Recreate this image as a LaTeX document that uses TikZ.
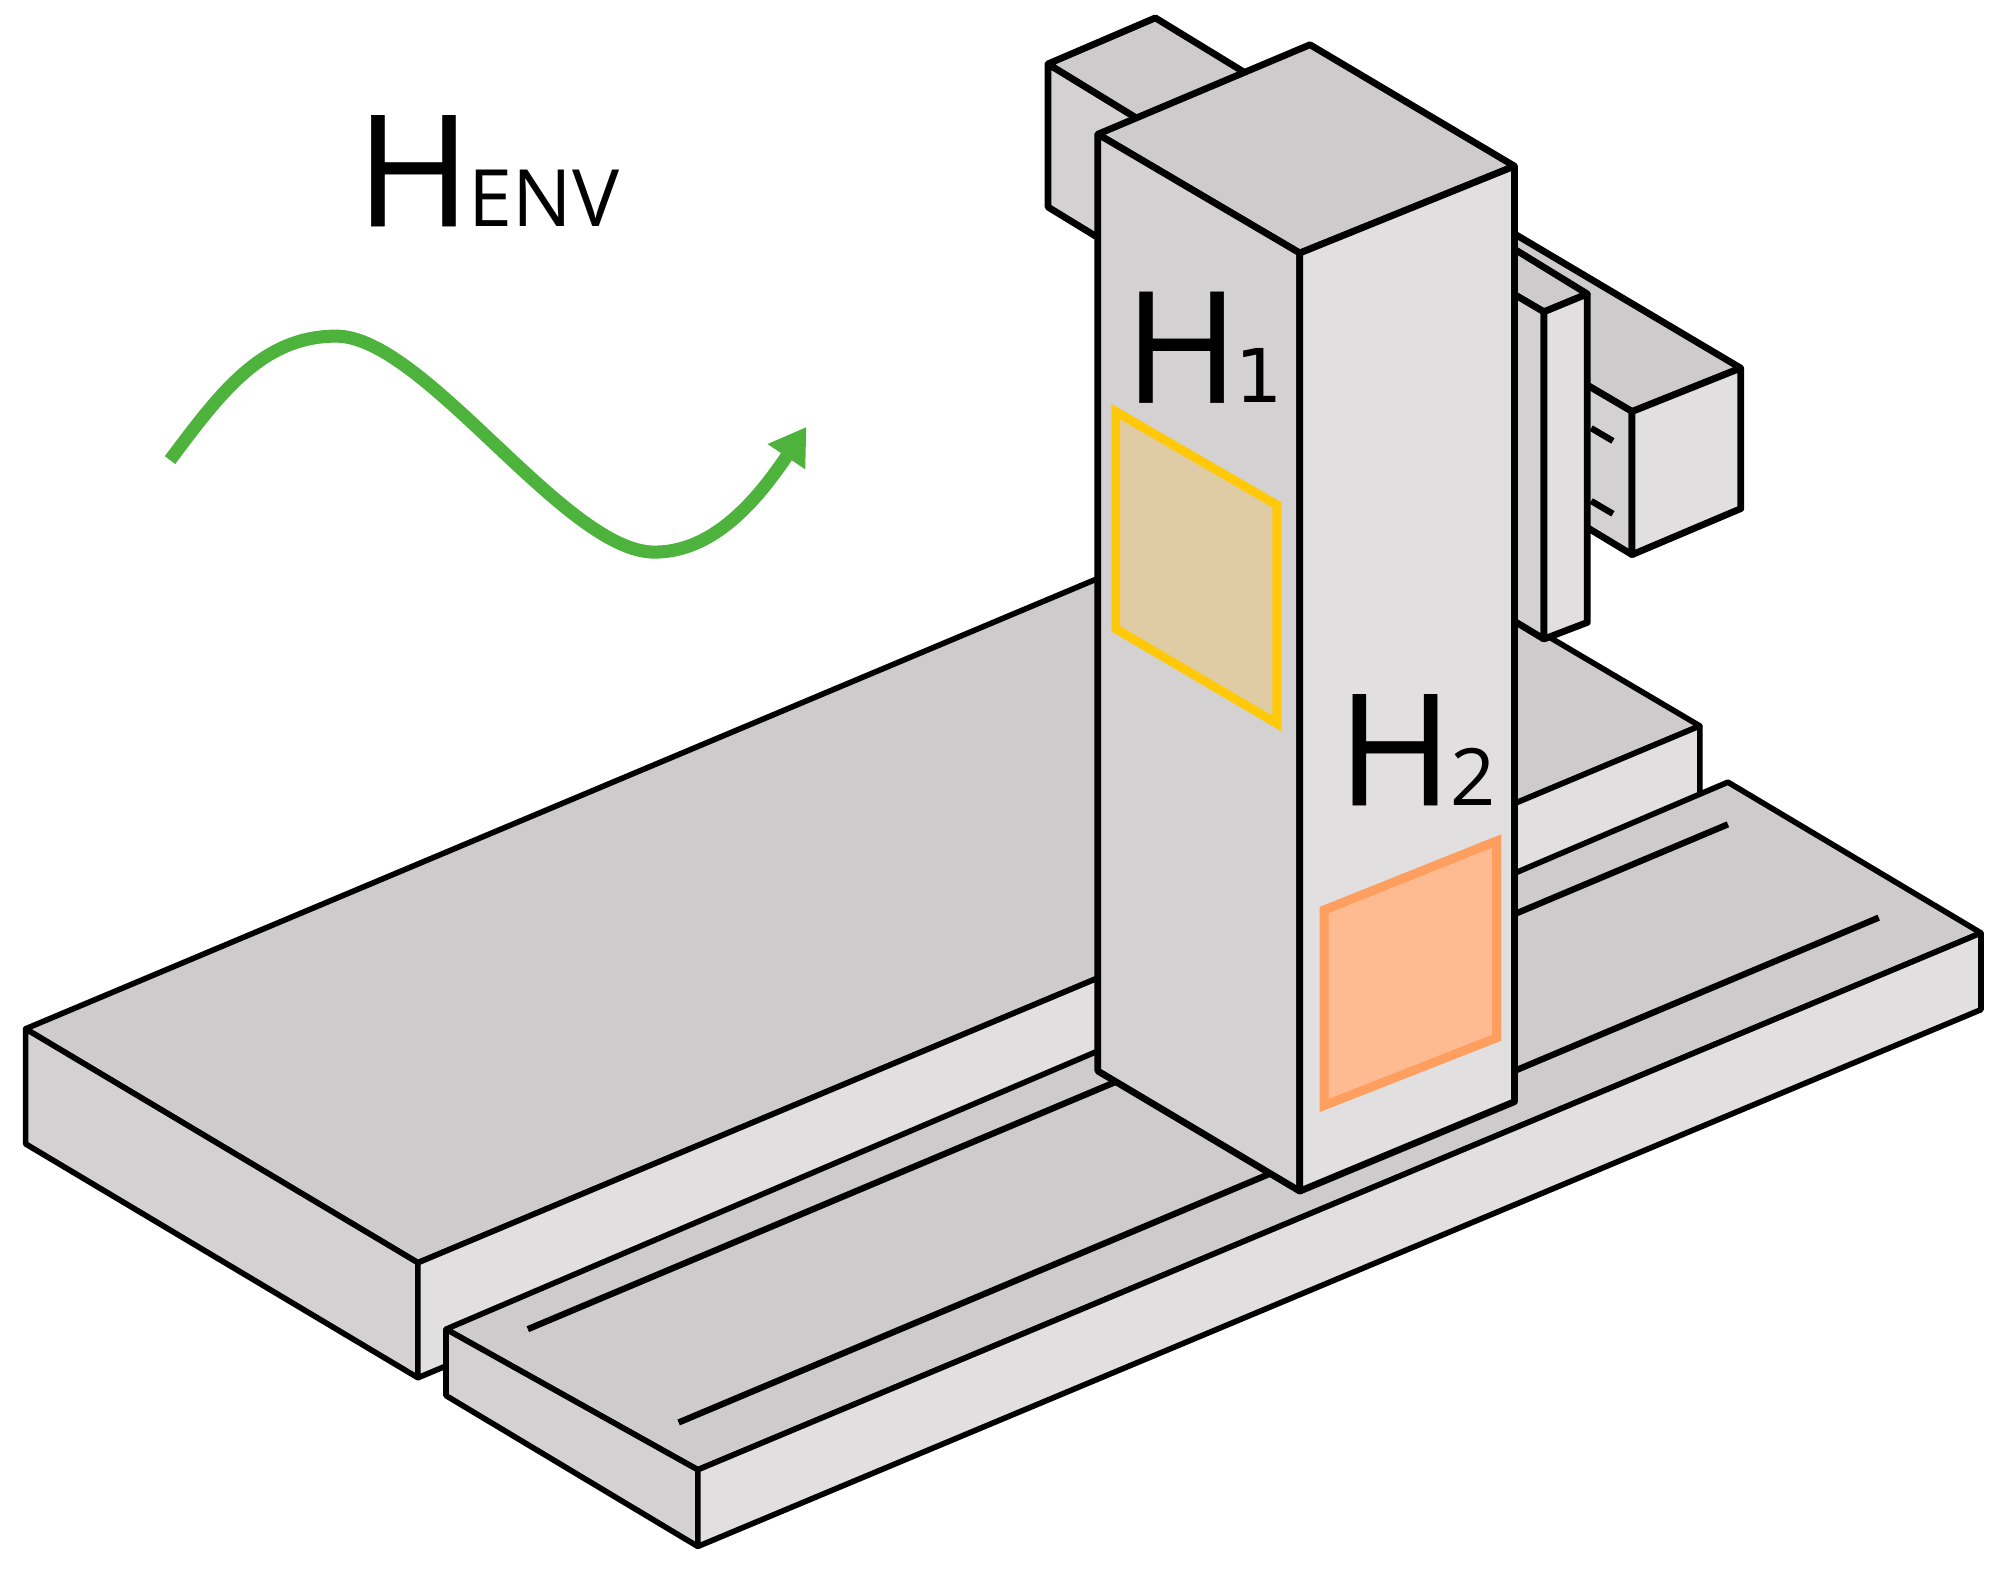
\documentclass[tikz,border=0pt]{standalone}
\usepackage{fontspec}
\setmainfont{Open Sans}
\newfontfamily\heavyfont[FakeBold=0.35]{Open Sans}
\newfontfamily\footfont{DejaVu Sans}
\usetikzlibrary{arrows.meta}

\tikzset{
    topface/.style={draw, fill={rgb,255:red,206;green,203;blue,204}, line width=1.25pt, line join=round},
    leftface/.style={draw, fill={rgb,255:red,211;green,209;blue,210}, line width=1.25pt, line join=round},
    rightface/.style={draw, fill={rgb,255:red,225;green,223;blue,224}, line width=1.25pt, line join=round},
    railline/.style={draw, line width=1.4pt},
    upperpart/.style={line width=1.5pt},
    bigletter/.style={anchor=base west, inner sep=0pt, font=\heavyfont\fontsize{34.5}{40}\selectfont},
    lowletter/.style={anchor=base west, inner sep=0pt, font=\fontsize{17.6}{22}\selectfont}
}

\begin{document}
\begin{tikzpicture}[x=0.01cm, y=-0.01cm]
    \useasboundingbox (0, 0) rectangle (1568, 1227);

    % large table
    \draw [topface] (20, 805) -- (1020, 385) -- (1330, 568) -- (327, 988) -- cycle;
    \draw [leftface] (20, 805) -- (327, 988) -- (327, 1078) -- (20, 895) -- cycle;
    \draw [rightface] (327, 988) -- (1330, 568) -- (1330, 658) -- (327, 1078) -- cycle;

    % rail bed
    \draw [topface] (349, 1040) -- (1352, 612) -- (1550, 730) -- (546, 1150) -- cycle;
    \draw [leftface] (349, 1040) -- (546, 1150) -- (546, 1210) -- (349, 1092) -- cycle;
    \draw [rightface] (546, 1150) -- (1550, 730) -- (1550, 790) -- (546, 1210) -- cycle;
    \draw [railline] (413, 1040) -- (1352, 645);
    \draw [railline] (531, 1113) -- (1470, 718);

    % box behind the column
    \draw [leftface, upperpart] (820, 50) -- (1026, 176) -- (1026, 288) -- (820, 162) -- cycle;
    \draw [topface, upperpart] (820, 50) -- (904, 14) -- (1110, 140) -- (1026, 176) -- cycle;

    % arm on the right
    \draw [topface, upperpart] (1100, 218) -- (1185, 183) -- (1362, 288) -- (1277, 322) -- cycle;
    \draw [leftface, upperpart] (1100, 218) -- (1277, 322) -- (1277, 434) -- (1100, 327) -- cycle;
    \draw [rightface, upperpart] (1277, 322) -- (1362, 288) -- (1362, 398) -- (1277, 434) -- cycle;
    \draw [railline] (1245, 335) -- (1262, 345);
    \draw [railline] (1245, 392) -- (1262, 402);

    % plate on the arm
    \draw [topface, upperpart] (1150, 210) -- (1185, 195) -- (1242, 230) -- (1208, 244) -- cycle;
    \draw [leftface, upperpart] (1150, 210) -- (1208, 244) -- (1208, 500) -- (1150, 465) -- cycle;
    \draw [rightface, upperpart] (1208, 244) -- (1242, 230) -- (1242, 487) -- (1208, 500) -- cycle;

    % column
    \draw [topface, upperpart] (859, 105) -- (1025, 35) -- (1185, 130) -- (1017, 198) -- cycle;
    \draw [leftface, upperpart] (859, 105) -- (1017, 198) -- (1017, 932) -- (859, 838) -- cycle;
    \draw [rightface, upperpart] (1017, 198) -- (1185, 130) -- (1185, 862) -- (1017, 932) -- cycle;

    % patches
    \draw [line width=2pt, draw={rgb,255:red,255;green,201;blue,10}, fill={rgb,255:red,223;green,204;blue,165}]
        (873, 322) -- (999, 395) -- (999, 566) -- (873, 492) -- cycle;
    \draw [line width=2pt, draw={rgb,255:red,255;green,159;blue,95}, fill={rgb,255:red,254;green,187;blue,146}]
        (1036, 712) -- (1171, 658) -- (1171, 812) -- (1036, 865) -- cycle;

    % wave
    \draw [line width=2.9pt, draw={rgb,255:red,77;green,179;blue,61}, -{Triangle[length=8pt, width=9.5pt]}]
        (133, 360) .. controls (172, 308) and (205, 263) .. (263, 263)
        .. controls (332, 263) and (442, 432) .. (512, 432)
        .. controls (558, 432) and (592, 392) .. (631, 334);

    % labels
    \node [bigletter] (henv) at (278, 177) {H};
    \node [lowletter] (henvlow) at (366, 177) {ENV};
    \node [bigletter] (hone) at (879, 315) {H};
    \node [lowletter, font=\footfont\fontsize{16.5}{20}\selectfont] (honelow) at (966, 315) {1};
    \node [bigletter] (htwo) at (1046, 630) {H};
    \node [lowletter] (htwolow) at (1134, 630) {2};
\end{tikzpicture}
\end{document}
